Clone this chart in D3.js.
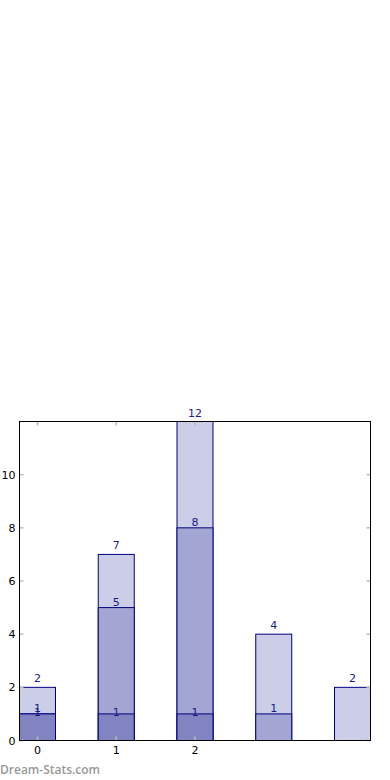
<!DOCTYPE html>
<html>
<head>
  <script src="https://d3js.org/d3.v7.min.js"></script>
  <style>
    body { margin: 0; background: white; }
    svg text { font-family: 'DejaVu Sans', sans-serif; }
  </style>
</head>
<body>
  <svg id="chart" width="390" height="780"></svg>
  <script>
    // values, drawn back to front
    var positions = [0, 1, 2, 3, 4];
    var totalVals = [2, 7, 12, 4, 2];
    var midVals = [1, 5, 8, 1, 0];
    var lowVals = [1, 1, 1, 0, 0];
    var xTicks = [0, 1, 2];
    var yTicks = [0, 2, 4, 6, 8, 10];
    var layers = [
      { vals: totalVals, fill: '#cccde6', dy: -5 },
      { vals: midVals, fill: '#a3a5d2', dy: -2 },
      { vals: lowVals, fill: '#8283c1', dy: 2 }
    ];

    var plotL = 19.5, plotR = 370.5, plotT = 421.5, plotB = 740.5;
    var barW = 0.457;
    var svg = d3.select('#chart');

    var x = d3.scaleLinear().domain([-barW / 2, 4 + barW / 2]).range([plotL, plotR]);
    var y = d3.scaleLinear().domain([0, 12]).range([plotB, plotT]);

    layers.forEach(function (layer) {
      var g = svg.append('g');
      g.selectAll('rect')
        .data(positions.filter(function (p) { return layer.vals[p] > 0; }))
        .join('rect')
        .attr('x', function (p) { return x(p - barW / 2); })
        .attr('width', function () { return x(barW) - x(0); })
        .attr('y', function (p) { return y(layer.vals[p]); })
        .attr('height', function (p) { return y(0) - y(layer.vals[p]); })
        .attr('fill', layer.fill)
        .attr('stroke', '#000080')
        .attr('stroke-width', 1);
    });

    layers.forEach(function (layer) {
      svg.append('g').selectAll('text')
        .data(positions.filter(function (p) { return layer.vals[p] > 0; }))
        .join('text')
        .attr('x', function (p) { return x(p); })
        .attr('y', function (p) { return y(layer.vals[p]) + layer.dy; })
        .attr('text-anchor', 'middle')
        .attr('fill', '#1a1a8c')
        .style('font-size', '11px')
        .text(function (p) { return layer.vals[p]; });
    });

    // tick marks inside the frame, all four sides
    var tickCol = '#bbbbbb';
    svg.append('g').selectAll('line').data(yTicks).join('line')
      .attr('x1', plotL).attr('x2', plotL + 4)
      .attr('y1', function (d) { return y(d); }).attr('y2', function (d) { return y(d); })
      .attr('stroke', tickCol).attr('stroke-width', 1.5);
    svg.append('g').selectAll('line').data(yTicks).join('line')
      .attr('x1', plotR - 4).attr('x2', plotR)
      .attr('y1', function (d) { return y(d); }).attr('y2', function (d) { return y(d); })
      .attr('stroke', tickCol).attr('stroke-width', 1.5);
    svg.append('g').selectAll('line').data(xTicks).join('line')
      .attr('x1', function (d) { return x(d); }).attr('x2', function (d) { return x(d); })
      .attr('y1', plotB - 4).attr('y2', plotB)
      .attr('stroke', tickCol).attr('stroke-width', 1.5);
    svg.append('g').selectAll('line').data(xTicks).join('line')
      .attr('x1', function (d) { return x(d); }).attr('x2', function (d) { return x(d); })
      .attr('y1', plotT).attr('y2', plotT + 4)
      .attr('stroke', tickCol).attr('stroke-width', 1.5);

    // frame
    svg.append('rect')
      .attr('x', plotL).attr('y', plotT)
      .attr('width', plotR - plotL).attr('height', plotB - plotT)
      .attr('fill', 'none').attr('stroke', 'black').attr('stroke-width', 1);

    svg.append('g').selectAll('text').data(yTicks).join('text')
      .attr('x', plotL - 4).attr('y', function (d) { return y(d) + 4; })
      .attr('text-anchor', 'end')
      .style('font-size', '11px')
      .text(function (d) { return d; });

    svg.append('g').selectAll('text').data(xTicks).join('text')
      .attr('x', function (d) { return x(d); }).attr('y', plotB + 13)
      .attr('text-anchor', 'middle')
      .style('font-size', '11px')
      .text(function (d) { return d; });

    svg.append('text')
      .attr('x', 0).attr('y', 774)
      .attr('fill', '#999999')
      .style('font-family', "'Open Sans', sans-serif")
      .style('font-size', '12px')
      .style('font-weight', '600')
      .text('Dream-Stats.com');
  </script>
</body>
</html>
